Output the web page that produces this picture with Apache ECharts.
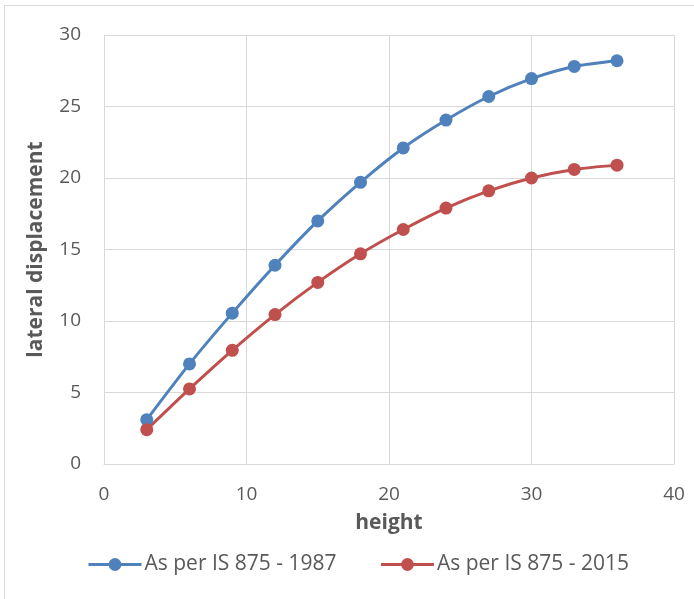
<!DOCTYPE html>
<html><head><meta charset="utf-8">
<script src="https://cdn.jsdelivr.net/npm/echarts@6/dist/echarts.min.js"></script>
<style>html,body{margin:0;padding:0;background:#fff}#c{width:694px;height:599px}</style>
</head><body><div id="c"></div>
<script>
const heights = [3, 6, 9, 12, 15, 18, 21, 24, 27, 30, 33, 36];
const disp1987 = [3.1, 7.0, 10.55, 13.9, 17.0, 19.7, 22.1, 24.05, 25.7, 26.95, 27.8, 28.2];
const disp2015 = [2.4, 5.25, 7.95, 10.45, 12.7, 14.7, 16.4, 17.9, 19.1, 20.0, 20.6, 20.9];
const seriesNames = ['As per IS 875 - 1987', 'As per IS 875 - 2015'];
const xTitle = 'height';
const yTitle = 'lateral displacement';

const font = '"Open Sans", "Liberation Sans", sans-serif';
const chart = echarts.init(document.getElementById('c'));
chart.setOption({
  animation: false,
  textStyle: {fontFamily: font},
  graphic: [{type: 'rect', shape: {x: 4.5, y: 5.5, width: 720, height: 720},
    style: {fill: 'none', stroke: '#d9d9d9', lineWidth: 1}, silent: true, z: -1}],
  grid: {left: 104, right: 20, top: 35, bottom: 135, containLabel: false},
  legend: {
    top: 549, left: 82, itemWidth: 53, itemHeight: 16, itemGap: 43,
    lineStyle: {width: 3},
    textStyle: {fontSize: 21, color: '#595959', fontFamily: font, padding: [0, 0, 0, -2]},
    data: seriesNames
  },
  xAxis: {
    type: 'value', min: 0, max: 40, interval: 10,
    name: xTitle, nameLocation: 'middle', nameGap: 49,
    nameTextStyle: {fontSize: 21, fontWeight: 'bold', color: '#595959'},
    axisLine: {show: true, lineStyle: {color: '#d9d9d9'}},
    axisTick: {show: false},
    axisLabel: {fontSize: 19, color: '#595959', margin: 21},
    splitLine: {show: true, lineStyle: {color: '#d9d9d9', width: 1}}
  },
  yAxis: {
    type: 'value', min: 0, max: 30, interval: 5,
    name: yTitle, nameLocation: 'middle', nameGap: 57,
    nameTextStyle: {fontSize: 21, fontWeight: 'bold', color: '#595959'},
    axisLine: {show: true, lineStyle: {color: '#d9d9d9'}},
    axisTick: {show: false},
    axisLabel: {fontSize: 19, color: '#595959', margin: 23},
    splitLine: {show: true, lineStyle: {color: '#d9d9d9', width: 1}}
  },
  series: [
    {name: seriesNames[0], type: 'line', smooth: 0.25,
     data: heights.map((h, i) => [h, disp1987[i]]),
     symbol: 'circle', symbolSize: 13,
     lineStyle: {color: '#4F81BD', width: 3}, itemStyle: {color: '#4F81BD'}},
    {name: seriesNames[1], type: 'line', smooth: 0.25,
     data: heights.map((h, i) => [h, disp2015[i]]),
     symbol: 'circle', symbolSize: 13,
     lineStyle: {color: '#C0504D', width: 3}, itemStyle: {color: '#C0504D'}}
  ]
});
</script></body></html>
